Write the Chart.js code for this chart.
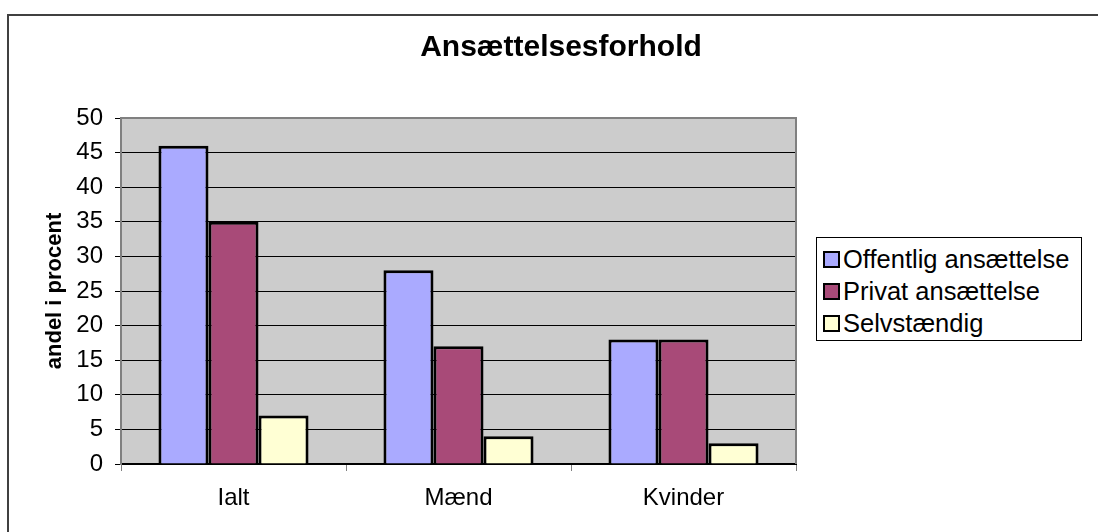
<!DOCTYPE html>
<html lang="da">
<head>
  <meta charset="UTF-8">
  <title>Ansættelsesforhold</title>
  <style>
    html, body {
      margin: 0;
      padding: 0;
      background: #fff;
      overflow: hidden;
      font-family: "Liberation Sans", Arial, sans-serif;
    }
    #frame {
      position: absolute;
      left: 7px;
      top: 14px;
      width: 2000px;
      height: 2000px;
      border-left: 2px solid #404040;
      border-top: 2px solid #404040;
    }
    #chart {
      position: absolute;
      left: 0;
      top: 0;
    }
    #title {
      position: absolute;
      left: 0;
      width: 1122px;
      top: 31px;
      line-height: 30px;
      font-size: 30px;
      font-weight: bold;
      text-align: center;
      color: #000;
    }
    #legend {
      position: absolute;
      left: 816px;
      top: 237px;
      width: 266px;
      height: 104px;
      border: 1px solid #000;
      padding-top: 5px;
      box-sizing: border-box;
      background: #fff;
    }
    .item {
      display: flex;
      align-items: center;
      height: 32px;
      font-size: 25.5px;
      color: #000;
    }
    .swatch {
      width: 13px;
      height: 13px;
      border: 2px solid #000;
      margin-left: 6px;
      margin-right: 3px;
    }
  </style>
</head>
<body>
  <div id="frame"></div>
  <canvas id="chart" width="1098" height="532"></canvas>
  <div id="title">Ansættelsesforhold</div>
  <div id="legend"></div>

  <script src="https://cdn.jsdelivr.net/npm/chart.js"></script>
  <script>
    const categories = ['Ialt', 'Mænd', 'Kvinder'];
    const seriesNames = ['Offentlig ansættelse', 'Privat ansættelse', 'Selvstændig'];
    const offentlig = [46, 28, 18];
    const privat = [35, 17, 18];
    const selvstaendig = [7, 4, 3];
    const yMin = 0;
    const yMax = 50;
    const yStep = 5;

    const colors = ['#AAAAFF', '#A84A78', '#FFFFD4'];
    const values = [offentlig, privat, selvstaendig];

    // legend as html
    const legend = document.getElementById('legend');
    seriesNames.forEach(function (name, i) {
      const row = document.createElement('div');
      row.className = 'item';
      const sw = document.createElement('span');
      sw.className = 'swatch';
      sw.style.background = colors[i];
      row.appendChild(sw);
      row.appendChild(document.createTextNode(name));
      legend.appendChild(row);
    });

    // gray plot area + gray top/right edge
    const plotArea = {
      id: 'plotArea',
      beforeDraw(chart) {
        const a = chart.chartArea;
        const ctx = chart.ctx;
        ctx.save();
        ctx.fillStyle = '#CCCCCC';
        ctx.fillRect(a.left, a.top, a.right - a.left, a.bottom - a.top);
        ctx.restore();
      },
      afterDraw(chart) {
        const a = chart.chartArea;
        const ctx = chart.ctx;
        ctx.save();
        ctx.strokeStyle = '#808080';
        ctx.lineWidth = 2;
        ctx.beginPath();
        ctx.moveTo(a.left, a.top);
        ctx.lineTo(a.right, a.top);
        ctx.lineTo(a.right, a.bottom);
        ctx.stroke();
        ctx.restore();
      }
    };

    const tickFont = { family: '"Liberation Sans", Arial, sans-serif', size: 24 };

    new Chart(document.getElementById('chart'), {
      type: 'bar',
      data: {
        labels: categories,
        datasets: seriesNames.map(function (name, i) {
          return {
            label: name,
            data: values[i],
            backgroundColor: colors[i],
            borderColor: '#000',
            borderWidth: 3,
            barPercentage: 1,
            categoryPercentage: 0.667
          };
        })
      },
      options: {
        responsive: false,
        animation: false,
        layout: {
          padding: { left: 40, top: 118, right: 302, bottom: 0 }
        },
        plugins: {
          legend: { display: false },
          title: { display: false },
          tooltip: { enabled: false }
        },
        scales: {
          x: {
            afterFit: function (s) { s.height = 68; },
            grid: {
              display: true,
              drawOnChartArea: false,
              drawTicks: true,
              tickLength: 7,
              color: '#808080',
              offset: true
            },
            border: { color: '#000', width: 2 },
            ticks: { font: tickFont, color: '#000', padding: 13 }
          },
          y: {
            min: yMin,
            max: yMax,
            afterFit: function (s) { s.width = 81; },
            ticks: { stepSize: yStep, font: tickFont, color: '#000', padding: 12 },
            grid: { color: '#000', lineWidth: 1, tickLength: 6, drawTicks: true },
            border: { color: '#808080', width: 2 },
            title: {
              display: true,
              text: 'andel i procent',
              color: '#000',
              font: { family: '"Liberation Sans", Arial, sans-serif', size: 22, weight: 'bold' },
              padding: { top: 2, bottom: 0 }
            }
          }
        }
      },
      plugins: [plotArea]
    });
  </script>
</body>
</html>
